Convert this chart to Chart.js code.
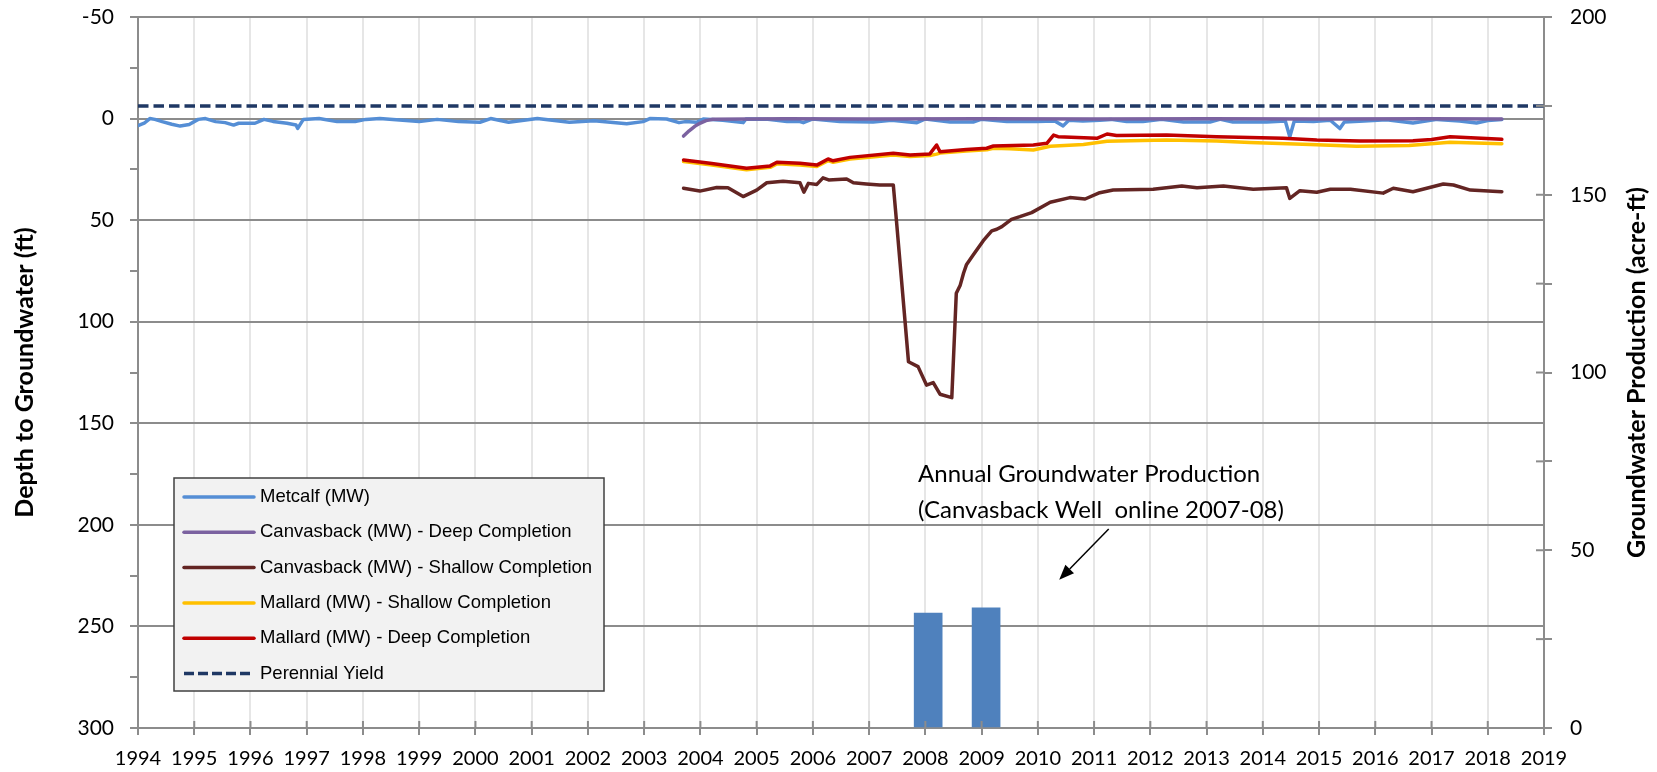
<!DOCTYPE html>
<html>
<head>
<meta charset="utf-8">
<script src="https://cdn.jsdelivr.net/npm/chart.js@4.4.1/dist/chart.umd.min.js"></script>
<style>
html,body{margin:0;padding:0;background:#ffffff;}
#wrap{width:1657px;height:772px;position:relative;}
</style>
</head>
<body>
<div id="wrap"><canvas id="c" width="1657" height="772"></canvas></div>
<script>
// ---------------- data ----------------
const seriesLabels = [
  'Metcalf (MW)',
  'Canvasback (MW) - Deep Completion',
  'Canvasback (MW) - Shallow Completion',
  'Mallard (MW) - Shallow Completion',
  'Mallard (MW) - Deep Completion',
  'Perennial Yield'
];
const leftAxisTitle = 'Depth to Groundwater (ft)';
const rightAxisTitle = 'Groundwater Production (acre-ft)';
const noteLines = ['Annual Groundwater Production', '(Canvasback Well  online 2007-08)'];

// [decimal year, depth to groundwater (ft)]
const metcalf = [[1994.00,3.5],[1994.11,2.3],[1994.21,0],[1994.30,0.4],[1994.43,1.5],[1994.60,2.8],[1994.75,3.7],[1994.91,2.9],[1995.07,0.4],[1995.20,0],[1995.38,1.5],[1995.55,2.0],[1995.70,3.2],[1995.79,2.3],[1996.08,2.3],[1996.24,0.4],[1996.40,1.4],[1996.65,2.3],[1996.81,3.2],[1996.84,4.8],[1996.94,0.4],[1997.22,0],[1997.54,1.5],[1997.86,1.5],[1998.05,0.4],[1998.30,0],[1998.65,0.7],[1999.00,1.5],[1999.32,0.4],[1999.70,1.5],[2000.08,1.8],[2000.27,0],[2000.59,1.8],[2001.10,0],[2001.67,1.8],[2002.11,1.1],[2002.69,2.5],[2002.98,1.5],[2003.10,0],[2003.40,0.2],[2003.62,2.0],[2003.73,1.5],[2003.93,1.8],[2004.05,0.2],[2004.40,0.8],[2004.76,2.0],[2004.81,0.2],[2005.20,0.3],[2005.54,1.5],[2005.77,1.5],[2005.83,2.0],[2006.00,0.2],[2006.48,1.5],[2007.07,1.7],[2007.40,0.8],[2007.85,2.0],[2008.00,0.2],[2008.44,1.7],[2008.85,1.7],[2009.00,0.3],[2009.45,1.5],[2009.98,1.5],[2010.30,1.2],[2010.45,3.6],[2010.55,0.8],[2010.80,1.2],[2011.10,0.8],[2011.30,0.4],[2011.58,1.5],[2011.87,1.5],[2012.20,0.4],[2012.59,1.7],[2013.06,1.7],[2013.25,0.3],[2013.47,1.7],[2014.07,1.7],[2014.40,1.2],[2014.48,8.9],[2014.56,1.2],[2014.90,1.5],[2015.20,0.8],[2015.37,4.9],[2015.45,1.7],[2015.80,1.2],[2016.20,0.6],[2016.67,2.2],[2017.10,0.4],[2017.50,1.2],[2017.80,2.2],[2018.00,1.0],[2018.25,0.4]];
const canvasbackDeep = [[2003.70,8.6],[2003.80,6.0],[2003.90,3.8],[2004.00,2.2],[2004.10,1.0],[2004.22,0.3],[2005.50,0.1],[2007.00,0.2],[2009.00,0.1],[2011.00,0.2],[2013.00,0.1],[2015.00,0.2],[2017.00,0.1],[2018.25,0.2]];
const canvasbackShallow = [[2003.70,34.3],[2003.99,35.7],[2004.29,33.9],[2004.49,34.0],[2004.76,38.4],[2005.00,35.2],[2005.18,31.6],[2005.47,30.8],[2005.77,31.6],[2005.84,36.2],[2005.92,31.9],[2006.07,32.4],[2006.18,29.2],[2006.28,30.2],[2006.60,29.7],[2006.72,31.6],[2006.95,32.2],[2007.19,32.7],[2007.43,32.7],[2007.49,51.6],[2007.70,119.7],[2007.87,122.1],[2008.02,131.2],[2008.14,130.0],[2008.26,135.7],[2008.47,137.4],[2008.55,86.0],[2008.62,82.0],[2008.68,76.0],[2008.73,72.0],[2008.85,67.2],[2009.03,60.1],[2009.18,55.3],[2009.27,54.5],[2009.36,53.2],[2009.53,49.6],[2009.68,48.3],[2009.89,46.3],[2010.22,41.2],[2010.57,38.9],[2010.84,39.6],[2011.10,36.5],[2011.34,35.2],[2012.05,34.8],[2012.56,33.2],[2012.83,34.0],[2013.30,33.2],[2013.83,34.8],[2014.42,34.0],[2014.48,39.3],[2014.66,35.5],[2014.96,36.3],[2015.20,34.8],[2015.56,34.8],[2016.14,36.7],[2016.32,34.3],[2016.67,36.0],[2017.21,32.2],[2017.39,32.7],[2017.69,35.2],[2018.25,36.0]];
const mallardShallow = [[2003.70,21.2],[2004.17,22.8],[2004.82,25.2],[2005.24,24.0],[2005.36,22.3],[2005.77,22.8],[2006.07,23.6],[2006.27,20.7],[2006.36,21.5],[2006.66,19.9],[2007.43,17.9],[2007.73,18.7],[2008.08,18.2],[2008.20,17.5],[2008.26,17.0],[2008.73,16.0],[2009.09,15.4],[2009.21,14.6],[2009.50,14.8],[2009.92,15.5],[2010.22,13.6],[2010.81,12.8],[2011.23,11.2],[2012.29,10.5],[2013.18,11.0],[2013.77,11.8],[2014.84,12.8],[2015.67,13.6],[2016.60,13.3],[2017.33,11.6],[2018.25,12.4]];
const mallardDeep = [[2003.70,20.4],[2004.17,22.0],[2004.82,24.5],[2005.24,23.3],[2005.36,21.5],[2005.77,22.0],[2006.07,22.9],[2006.27,19.9],[2006.36,20.8],[2006.66,19.1],[2007.43,17.1],[2007.73,17.9],[2008.08,17.4],[2008.20,13.0],[2008.26,16.3],[2008.73,15.2],[2009.09,14.6],[2009.21,13.5],[2009.92,13.0],[2010.16,12.2],[2010.28,8.1],[2010.36,8.9],[2011.05,9.7],[2011.23,7.6],[2011.40,8.3],[2012.29,8.1],[2013.18,8.9],[2014.36,9.7],[2014.96,10.5],[2015.73,11.0],[2016.67,10.9],[2017.00,10.3],[2017.33,8.9],[2018.25,10.2]];

// annual groundwater production (acre-ft), right axis
const productionYears = [2008.05, 2009.08];
const productionAcreFt = [32.3, 33.8];
// perennial yield (acre-ft), right axis
const perennialYears = [1994, 2019];
const perennialAcreFt = [175, 175];

// axis ranges
const yearRange = [1994, 2019];
const depthRange = [-50, 300];
const productionRange = [0, 200];

// annotation anchors in data units [year, depth]
const noteAnchor = [2007.87, 178.9];
const noteSecondLineDepth = 196.6;
const arrowTail = [2011.26, 202];
const arrowHead = [2010.38, 227];

// ---------------- styles ----------------
const colors = ['#558ed5', '#7b62a0', '#632523', '#ffc000', '#c00000', '#1f3864'];
const tickFont = 'Lato';
const axisGray = '#8c8c8c';

const toXY = arr => arr.map(p => ({x: p[0], y: p[1]}));
const lineSeries = [metcalf, canvasbackDeep, canvasbackShallow, mallardShallow, mallardDeep];

const datasets = lineSeries.map((s, i) => ({
  type: 'line',
  label: seriesLabels[i],
  data: toXY(s),
  yAxisID: 'y',
  borderColor: colors[i],
  backgroundColor: colors[i],
  borderWidth: 3.5,
  pointRadius: 0,
  tension: 0,
  fill: false,
  borderJoinStyle: 'round',
  borderCapStyle: 'round',
  order: 6 - i
}));
datasets.push({
  type: 'line',
  label: seriesLabels[5],
  data: perennialYears.map((x, i) => ({x, y: perennialAcreFt[i]})),
  yAxisID: 'y2',
  borderColor: colors[5],
  borderWidth: 3.5,
  borderDash: [10.5, 5],
  borderCapStyle: 'butt',
  pointRadius: 0,
  fill: false,
  order: 0
});
datasets.push({
  type: 'bar',
  label: 'Annual Groundwater Production',
  data: productionYears.map((x, i) => ({x, y: productionAcreFt[i]})),
  yAxisID: 'y2',
  backgroundColor: '#4f81bd',
  borderWidth: 0,
  barThickness: 28,
  order: 10
});

const overlay = {
  id: 'overlay',
  afterDraw(chart) {
    const {ctx, chartArea: ca, scales} = chart;
    const xs = scales.x, ys = scales.y, y2 = scales.y2;
    ctx.save();
    // inner halves of crossing tick marks
    ctx.strokeStyle = axisGray; ctx.lineWidth = 2;
    xs.ticks.forEach(t => {
      const px = xs.getPixelForValue(t.value);
      ctx.beginPath(); ctx.moveTo(px, ca.bottom - 7); ctx.lineTo(px, ca.bottom); ctx.stroke();
    });
    y2.ticks.forEach(t => {
      const py = y2.getPixelForValue(t.value);
      ctx.beginPath(); ctx.moveTo(ca.right - 8, py); ctx.lineTo(ca.right, py); ctx.stroke();
    });

    // axis titles
    ctx.fillStyle = '#000';
    ctx.font = 'bold 25px Lato';
    ctx.textAlign = 'center'; ctx.textBaseline = 'middle';
    const midY = (ca.top + ca.bottom) / 2;
    ctx.save(); ctx.translate(25, midY); ctx.rotate(-Math.PI / 2); ctx.fillText(leftAxisTitle, 0, 0); ctx.restore();
    ctx.save(); ctx.translate(ca.right + 93, midY); ctx.rotate(-Math.PI / 2); ctx.fillText(rightAxisTitle, 0, 0); ctx.restore();

    // annotation text
    ctx.font = '24px Lato';
    ctx.textAlign = 'left'; ctx.textBaseline = 'alphabetic';
    const nx = xs.getPixelForValue(noteAnchor[0]);
    ctx.fillText(noteLines[0], nx, ys.getPixelForValue(noteAnchor[1]));
    ctx.fillText(noteLines[1], nx, ys.getPixelForValue(noteSecondLineDepth));

    // arrow
    const tx = xs.getPixelForValue(arrowTail[0]), ty = ys.getPixelForValue(arrowTail[1]);
    const hx = xs.getPixelForValue(arrowHead[0]), hy = ys.getPixelForValue(arrowHead[1]);
    const ang = Math.atan2(hy - ty, hx - tx);
    const len = 15, hw = 6;
    const bx = hx - len * Math.cos(ang), by = hy - len * Math.sin(ang);
    ctx.strokeStyle = '#000'; ctx.lineWidth = 1.5;
    ctx.beginPath(); ctx.moveTo(tx, ty); ctx.lineTo(bx, by); ctx.stroke();
    ctx.beginPath();
    ctx.moveTo(hx, hy);
    ctx.lineTo(bx + hw * Math.sin(ang), by - hw * Math.cos(ang));
    ctx.lineTo(bx - hw * Math.sin(ang), by + hw * Math.cos(ang));
    ctx.closePath(); ctx.fillStyle = '#000'; ctx.fill();

    // legend box
    const lx0 = ca.left + 36, ly0 = 478, lx1 = 604, ly1 = 691;
    ctx.fillStyle = '#f2f2f2';
    ctx.fillRect(lx0, ly0, lx1 - lx0, ly1 - ly0);
    ctx.strokeStyle = '#404040'; ctx.lineWidth = 1.5;
    ctx.strokeRect(lx0, ly0, lx1 - lx0, ly1 - ly0);
    ctx.font = '18.5px "Liberation Sans", Arial, sans-serif';
    ctx.textAlign = 'left'; ctx.textBaseline = 'middle';
    seriesLabels.forEach((lab, i) => {
      const ry = 497 + i * 35.3;
      ctx.strokeStyle = colors[i];
      ctx.lineWidth = i === 5 ? 3.5 : 3.5;
      ctx.setLineDash(i === 5 ? [10, 4] : []);
      ctx.lineCap = i === 5 ? 'butt' : 'round';
      ctx.beginPath(); ctx.moveTo(lx0 + 10, ry); ctx.lineTo(lx0 + 80, ry); ctx.stroke();
      ctx.setLineDash([]);
      ctx.fillStyle = '#000';
      ctx.fillText(lab, lx0 + 86, ry);
    });
    ctx.restore();
  }
};

new Chart(document.getElementById('c'), {
  type: 'line',
  data: {datasets},
  options: {
    responsive: false,
    animation: false,
    devicePixelRatio: 1,
    layout: {padding: {top: 17, left: 0, right: 0, bottom: 0}},
    plugins: {legend: {display: false}, tooltip: {enabled: false}},
    scales: {
      x: {
        type: 'linear',
        offset: false,
        min: yearRange[0], max: yearRange[1],
        ticks: {stepSize: 1, autoSkip: false, maxRotation: 0, color: '#000',
                font: {family: tickFont, size: 20}, padding: 12,
                callback: v => String(v)},
        grid: {offset: false, color: '#e6e6e6', lineWidth: 2, tickColor: axisGray, tickLength: 7},
        border: {color: axisGray, width: 2},
        afterFit: s => { s.height = 44; s.paddingLeft = 0; s.paddingRight = 0; }
      },
      y: {
        type: 'linear', position: 'left', reverse: true,
        min: depthRange[0], max: depthRange[1],
        ticks: {stepSize: 25, color: '#000', font: {family: tickFont, size: 21}, padding: 16,
                callback: v => (v % 50 === 0 ? String(v) : '')},
        grid: {color: c => (c.tick && c.tick.value % 50 === 0 ? axisGray : 'rgba(0,0,0,0)'),
               lineWidth: 2, tickColor: axisGray, tickLength: 8},
        border: {color: axisGray, width: 2},
        afterFit: s => { s.width = 138; s.paddingTop = 0; s.paddingBottom = 0; }
      },
      y2: {
        type: 'linear', position: 'right',
        min: productionRange[0], max: productionRange[1],
        ticks: {stepSize: 25, color: '#000', font: {family: tickFont, size: 21}, padding: 18,
                callback: v => (v % 50 === 0 ? String(v) : '')},
        grid: {drawOnChartArea: false, lineWidth: 2, tickColor: axisGray, tickLength: 8},
        border: {color: axisGray, width: 2},
        afterFit: s => { s.width = 113; s.paddingTop = 0; s.paddingBottom = 0; }
      }
    }
  },
  plugins: [overlay]
});
</script>
</body>
</html>
